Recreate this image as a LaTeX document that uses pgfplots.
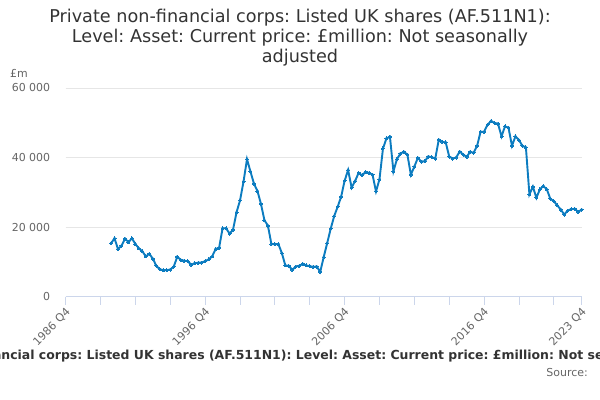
\documentclass[border=0pt]{standalone}
\usepackage{pgfplots}
\pgfplotsset{compat=1.18}
\usepackage{pgfplotstable}
\usepackage{fontspec}
\setmainfont{DejaVu Sans}
\frenchspacing
\definecolor{linec}{HTML}{0C7CC0}
\definecolor{gridc}{HTML}{E6E6E6}
\definecolor{axc}{HTML}{CCD6EB}
\definecolor{labc}{HTML}{666666}
\definecolor{titc}{HTML}{333333}
\pgfplotstableread{
q v
13 15330
14 16770
15 13690
16 14650
17 16680
18 15710
19 16770
20 15130
21 13880
22 13010
23 11570
24 12340
25 10890
26 8870
27 7900
28 7620
29 7620
30 7810
31 8680
32 11470
33 10600
34 10310
35 10220
36 9160
37 9640
38 9740
39 9830
40 10220
41 10700
42 11570
43 13690
44 14070
45 19670
46 19670
47 18120
48 19280
49 24290
50 27670
51 33070
52 39520
53 35960
54 32490
55 30370
56 26700
57 21980
58 20440
59 15130
60 15130
61 15130
62 12530
63 8970
64 8870
65 7710
66 8680
67 8870
68 9450
69 8970
70 8770
71 8580
72 8680
73 7130
74 11380
75 15420
76 19520
77 23140
78 25840
79 28730
80 33350
81 36400
82 31380
83 33250
84 35570
85 34900
86 35860
87 35570
88 35090
89 30270
90 33740
91 42610
92 45500
93 45980
94 36050
95 39520
96 41160
97 41640
98 40870
99 35090
100 37400
101 39910
102 38850
103 38950
104 40300
105 40100
106 39720
107 45120
108 44540
109 44340
110 40300
111 39720
112 40010
113 41740
114 40870
115 40200
116 41640
117 41360
118 43380
119 47430
120 47430
121 49450
122 50510
123 49930
124 49740
125 46080
126 48970
127 48590
128 43380
129 46080
130 45020
131 43380
132 42900
133 29400
134 31620
135 28440
136 30850
137 31810
138 30850
139 28150
140 27470
141 26220
142 25060
143 23620
144 24770
145 25160
146 25260
147 24390
148 25060
}\datatable
\begin{document}
\begin{tikzpicture}
\useasboundingbox (0,0) rectangle (600bp,400bp);
\clip (0,0) rectangle (600bp,400bp);
\fill[white] (0,0) rectangle (600bp,400bp);
\node[align=center, text=titc, font=\fontsize{17.7}{20}\selectfont, inner sep=0pt] at (300bp,362bp)
 {Private non-financial corps: Listed UK shares (AF.511N1):\\Level: Asset: Current price: £million: Not seasonally\\adjusted};
\node[anchor=west, text=labc, font=\fontsize{11}{13}\selectfont, inner sep=0pt] at (10bp,327bp) {£m};
\begin{axis}[
 at={(65.7bp,103.3bp)}, anchor=south west,
 scale only axis, width=516bp, height=208.7bp,
 xmin=0, xmax=148, ymin=0, ymax=60000,
 axis lines*=left,
 x axis line style={draw=axc, line width=0.8bp},
 y axis line style={draw=none},
 xtick={0,10,...,140,148},
 xticklabels={1986 Q4,,,,1996 Q4,,,,2006 Q4,,,,2016 Q4,,,2023 Q4},
 ytick={0,20000,40000,60000},
 yticklabels={0,20 000,40 000,60 000},
 scaled y ticks=false,
 tick align=outside,
 major tick length=8bp,
 xtick style={draw=axc, line width=0.8bp},
 ytick style={draw=none},
 ymajorgrids, grid style={draw=gridc, line width=0.8bp},
 yticklabel style={text=labc, font=\fontsize{11}{13}\selectfont, anchor=east, xshift=-4bp},
 xticklabel style={text=labc, font=\fontsize{11}{13}\selectfont, rotate=45, anchor=north east, inner sep=1bp, xshift=-1bp},
 clip=false,
]
\addplot[color=linec, line width=1.9bp, mark=*, mark size=1.5bp, mark options={fill=linec, draw=linec, line width=0pt}] table[x=q, y=v] {\datatable};
\end{axis}
\node[text=titc, font=\bfseries\fontsize{12.5}{14}\selectfont, inner sep=0pt] at (308bp,44bp)
 {Private non-financial corps: Listed UK shares (AF.511N1): Level: Asset: Current price: £million: Not seasonally adjusted};
\node[anchor=east, text=labc, font=\fontsize{11}{13}\selectfont, inner sep=0pt] at (588bp,27bp) {Source:};
\end{tikzpicture}
\end{document}
